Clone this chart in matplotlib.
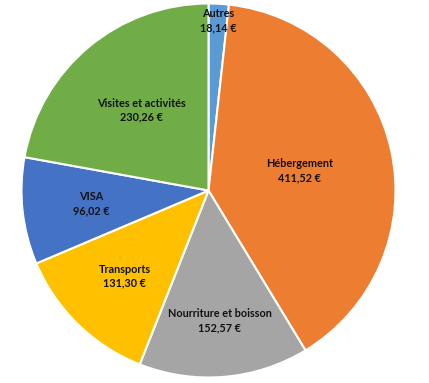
import numpy as np
import matplotlib.pyplot as plt

# Répartition des dépenses
categories = ["Autres", "Hébergement", "Nourriture et boisson", "Transports", "VISA", "Visites et activités"]
montants = [18.14, 411.52, 152.57, 131.30, 96.02, 230.26]
couleurs = ["#5B9BD5", "#ED7D31", "#A5A5A5", "#FFC000", "#4472C4", "#70AD47"]
# distance radiale des étiquettes (fraction du rayon)
dist_labels = [0.91, 0.50, 0.70, 0.64, 0.63, 0.56]

fig = plt.figure(figsize=(4.29, 3.83), dpi=100)
R = 187
cx, cy = 208.5, 383 - 190.5
ax = fig.add_axes([(cx - R) / 429, (cy - R) / 383, 2 * R / 429, 2 * R / 383])

wedges, _ = ax.pie(montants, colors=couleurs, startangle=90, counterclock=False,
                   radius=1.0, wedgeprops=dict(edgecolor="white", linewidth=1.5))

for w, cat, v, d in zip(wedges, categories, montants, dist_labels):
    ang = np.deg2rad((w.theta1 + w.theta2) / 2)
    x, y = d * np.cos(ang), d * np.sin(ang)
    txt = f"{cat}\n{v:.2f} €".replace(".", ",")
    ax.text(x, y, txt, ha="center", va="center", fontsize=7.8,
            fontweight="bold", family="Lato", color="#111111", linespacing=1.35)

ax.set_xlim(-1, 1)
ax.set_ylim(-1, 1)
ax.set_aspect("equal")
ax.axis("off")

fig.savefig("out.png", dpi=100)
